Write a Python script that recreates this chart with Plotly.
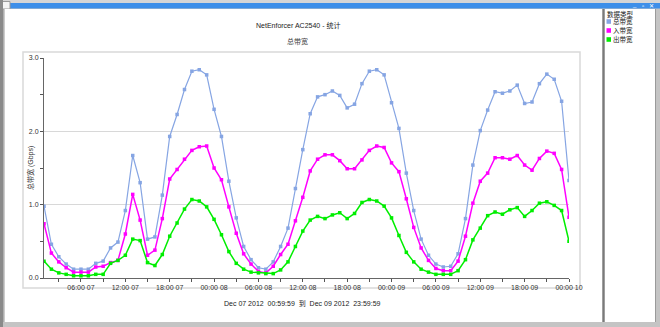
import pandas as pd
import plotly.graph_objects as go

# Hourly bandwidth samples (Gbps), Dec 07 01:00 .. Dec 10 00:00
series_names = ["总带宽", "入带宽", "出带宽"]
series_colors = ["#86a5e3", "#ff00ff", "#00ee00"]

total_bw = [0.98, 0.46, 0.29, 0.19, 0.12, 0.12, 0.12, 0.20, 0.23, 0.41, 0.49, 0.92,
            1.67, 1.30, 0.53, 0.56, 1.13, 1.93, 2.23, 2.57, 2.82, 2.84, 2.77, 2.30,
            1.93, 1.32, 0.82, 0.43, 0.25, 0.14, 0.12, 0.22, 0.43, 0.68, 1.22, 1.75,
            2.24, 2.47, 2.50, 2.55, 2.49, 2.32, 2.37, 2.65, 2.82, 2.84, 2.77, 2.39,
            2.04, 1.43, 0.92, 0.53, 0.31, 0.19, 0.15, 0.16, 0.33, 0.81, 1.54, 2.01,
            2.29, 2.54, 2.52, 2.55, 2.63, 2.38, 2.40, 2.65, 2.78, 2.71, 2.41, 1.33]
in_bw = [0.74, 0.34, 0.22, 0.14, 0.08, 0.08, 0.08, 0.15, 0.16, 0.21, 0.24, 0.60,
         1.14, 0.79, 0.31, 0.38, 0.81, 1.35, 1.48, 1.62, 1.74, 1.79, 1.80, 1.50,
         1.34, 0.97, 0.61, 0.33, 0.19, 0.09, 0.07, 0.16, 0.32, 0.46, 0.78, 1.10,
         1.46, 1.62, 1.68, 1.68, 1.60, 1.49, 1.49, 1.61, 1.74, 1.80, 1.78, 1.57,
         1.45, 1.08, 0.69, 0.41, 0.24, 0.13, 0.10, 0.10, 0.23, 0.57, 1.02, 1.32,
         1.43, 1.64, 1.64, 1.62, 1.67, 1.54, 1.47, 1.63, 1.73, 1.70, 1.48, 0.83]
out_bw = [0.23, 0.12, 0.07, 0.05, 0.03, 0.03, 0.03, 0.05, 0.05, 0.20, 0.24, 0.31,
          0.53, 0.51, 0.21, 0.17, 0.32, 0.57, 0.75, 0.94, 1.07, 1.05, 0.97, 0.80,
          0.59, 0.36, 0.20, 0.12, 0.08, 0.07, 0.06, 0.06, 0.11, 0.22, 0.43, 0.64,
          0.79, 0.84, 0.81, 0.86, 0.89, 0.81, 0.88, 1.03, 1.07, 1.05, 0.98, 0.82,
          0.58, 0.35, 0.22, 0.12, 0.08, 0.05, 0.05, 0.05, 0.10, 0.25, 0.52, 0.68,
          0.85, 0.90, 0.87, 0.93, 0.96, 0.84, 0.92, 1.02, 1.04, 0.99, 0.92, 0.50]

times = pd.date_range("2012-12-07 01:00", periods=len(total_bw), freq="h")

chart_title = "NetEnforcer AC2540 - 统计"
chart_subtitle = "总带宽"
y_title = "总带宽 (Gbps)"
legend_title = "数据类型"
period_text = "Dec 07 2012  00:59:59  到  Dec 09 2012  23:59:59"

W, H = 660, 327
PL, PR, PT, PB = 44, 569, 58, 278
FONT = "Liberation Sans, Arial, Noto Sans CJK SC, sans-serif"


def px(x):
    return (x - PL) / (PR - PL)


def py(y):
    return (PB - y) / (PB - PT)


fig = go.Figure()
for name, color, vals, width in zip(series_names, series_colors,
                                    [total_bw, in_bw, out_bw], [1.2, 1.5, 1.5]):
    fig.add_trace(go.Scatter(
        x=times, y=vals, name=name, mode="lines+markers",
        line=dict(color=color, width=width),
        marker=dict(color=color, size=3.5, symbol="square"),
        showlegend=False,
    ))


def rect(x0, y0, x1, y1, fill, line=None, lw=0, layer="below"):
    return dict(type="rect", xref="paper", yref="paper",
                x0=px(x0), x1=px(x1), y0=py(y1), y1=py(y0),
                fillcolor=fill, line=dict(color=line or fill, width=lw), layer=layer)


def vline(x, y0, y1, color, lw):
    return dict(type="line", xref="paper", yref="paper",
                x0=px(x), x1=px(x), y0=py(y0), y1=py(y1),
                line=dict(color=color, width=lw), layer="below")


shapes = [
    # window frame
    rect(0, 0, 660, 3, "#d6d6d6"),
    rect(10, 3, 660, 8.5, "#3d8fe9"),
    rect(2, 1.5, 10, 9, "#f4f4f4", "#9a9a9a", 1),
    rect(0, 0, 3, 327, "#8a8a8a"),
    rect(4, 9, 602, 322, "#ffffff"),
    rect(605, 9, 655, 322, "#ffffff"),
    vline(603.5, 9, 322, "#7a7a7a", 2),
    vline(655.5, 9, 322, "#9a9a9a", 1),
    vline(4, 9, 322, "#9a9a9a", 1),
    # plot frame
    rect(23, 52, 580, 288, "rgba(0,0,0,0)", "#d9d9d9", 1.5),
]

annotations = [
    dict(x=px(298), y=py(25), text=chart_title, font=dict(size=7, color="#222")),
    dict(x=px(297), y=py(42), text=chart_subtitle, font=dict(size=7, color="#444")),
    dict(x=px(30), y=py(168), text=y_title, textangle=-90, font=dict(size=7, color="#333")),
    dict(x=px(302), y=py(303), text=period_text, font=dict(size=7, color="#222")),
    dict(x=px(606), y=py(14), text=legend_title, xanchor="left", font=dict(size=6.5, color="#222")),
    dict(x=px(634), y=py(5), text="_", font=dict(size=6, color="#ffffff")),
    dict(x=px(643), y=py(5.5), text="▫", font=dict(size=6, color="#ffffff")),
    dict(x=px(651), y=py(5.5), text="✕", font=dict(size=6, color="#ffffff")),
]
# legend: colour swatch + label per series
for k, (name, color) in enumerate(zip(series_names, series_colors)):
    yy = 21.5 + 9 * k
    shapes.append(dict(type="rect", xref="paper", yref="paper",
                       x0=px(606.5), x1=px(611), y0=py(yy + 2.3), y1=py(yy - 2.3),
                       fillcolor=color, line=dict(width=0), layer="above"))
    annotations.append(dict(x=px(611.5), y=py(yy), text=name, xanchor="left",
                            font=dict(size=6.5, color="#222")))
for a in annotations:
    a.update(xref="paper", yref="paper", showarrow=False, yanchor="middle",
             xanchor=a.get("xanchor", "center"), borderpad=0)
    a["font"]["family"] = FONT

fig.update_layout(
    width=W, height=H,
    margin=dict(l=PL, r=W - PR, t=PT, b=H - PB, pad=0),
    paper_bgcolor="#c4c4c4", plot_bgcolor="#ffffff",
    font=dict(family=FONT, size=7, color="#333"),
    shapes=shapes, annotations=annotations,
    xaxis=dict(
        type="date",
        range=["2012-12-07 01:00", "2012-12-10 00:00"],
        tick0="2012-12-07 00:00", dtick=6 * 3600 * 1000,
        tickformat="%H:%M %d", ticks="outside", ticklen=3, tickcolor="#555",
        showgrid=False, zeroline=False,
        showline=True, linecolor="#666", linewidth=1,
        minor=dict(dtick=3 * 3600 * 1000, tick0="2012-12-07 00:00",
                   ticks="outside", ticklen=3, tickcolor="#555", showgrid=False),
        tickfont=dict(size=7, color="#333"), automargin=False,
    ),
    yaxis=dict(
        range=[0, 3], dtick=1, tickformat=".1f",
        ticks="outside", ticklen=3, tickcolor="#555",
        showgrid=True, gridcolor="#d8d8d8", gridwidth=1, zeroline=False,
        showline=True, linecolor="#666", linewidth=1,
        minor=dict(dtick=0.5, ticks="outside", ticklen=3, tickcolor="#555", showgrid=False),
        tickfont=dict(size=7, color="#333"), automargin=False,
    ),
)

fig.write_html("out.html")
